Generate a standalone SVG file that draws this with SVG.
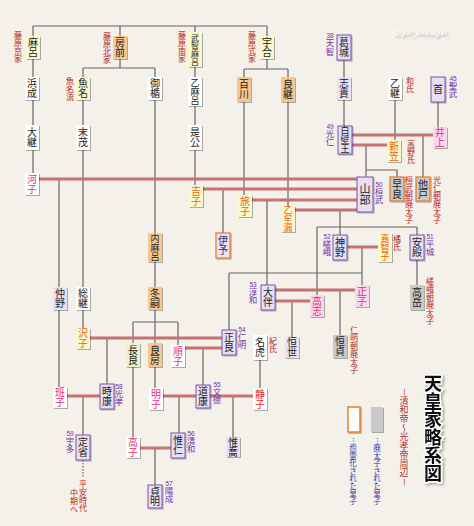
<svg xmlns="http://www.w3.org/2000/svg" width="474" height="526" viewBox="0 0 474 526">
<defs>
<filter id="sh" x="-30%" y="-30%" width="160%" height="160%"><feDropShadow dx="1" dy="1" stdDeviation="0.7" flood-color="#000" flood-opacity="0.3"/></filter>
<filter id="tsh" x="-30%" y="-30%" width="160%" height="160%"><feDropShadow dx="1.5" dy="1.5" stdDeviation="1" flood-color="#000" flood-opacity="0.35"/></filter>
</defs>
<style>
.v{writing-mode:vertical-rl;text-anchor:middle;font-family:"Noto Sans CJK JP","Noto Sans CJK SC",sans-serif;}
.nm{font-size:10px;fill:#222;}
.n9{font-size:9px;}
.n8{font-size:8px;}
.w rect,rect.w{fill:#fff;}
rect{filter:url(#sh);}
.yel{fill:#fbf8cc;}
.org{fill:#f6c690;}
.wht{fill:#ffffff;}
.lav{fill:#eae2f4;}
.lavb{fill:#e8dff4;stroke:#7a55a8;stroke-width:1;}
.pnk{fill:#f7d8ee;}
.gry{fill:#c9c9c9;}
.gryo{fill:#c9c9c9;stroke:#e8802a;stroke-width:1.3;}
.lavo{fill:#ece4f6;stroke:#e8802a;stroke-width:1.3;}
.ygr{fill:#eef0c6;}
.tw{fill:#e8650f;}
.tp{fill:#e6307a;}
.tr{fill:#d82a2a;}
.lab{font-size:8px;fill:#b41e22;}
.emp{font-size:8.5px;fill:#7030a8;}
.num{font-family:"Liberation Sans",sans-serif;font-size:6.5px;fill:#7030a8;text-anchor:middle;}
.g{stroke:#666;stroke-width:1.2;fill:none;}
.r{stroke:#c47272;stroke-width:3;fill:none;}
</style>
<rect x="0" y="0" width="474" height="526" fill="#f3f1e9" style="filter:none"/>
<g id="connectors">
<path class="g" d="M33 26H267M33 26V36M120 26V36M195 26V32M267 26V36"/>
<path class="g" d="M33 59V173"/>
<path class="g" d="M120 59V68M83 68H155M83 68V77M155 68V77"/>
<path class="g" d="M83 100V328"/>
<path class="g" d="M155 100V388"/>
<path class="g" d="M195 67V185"/>
<path class="g" d="M267 59V69M244 69H288M244 69V77M288 69V77"/>
<path class="g" d="M244 102V195M288 102V206"/>
<path class="g" d="M344 60V126M395 100V140M438 102V127"/>
<path class="g" d="M423 135V177M366 145V177M366 170H397V177"/>
<path class="g" d="M59 179V387"/>
<path class="g" d="M223 189V233M267 200V285"/>
<path class="g" d="M340 210V235M317 227H417M317 227V295M417 227V285"/>
<path class="g" d="M362 247V285M229 273H362M229 273V330"/>
<path class="g" d="M292 301V337M340 290V335"/>
<path class="g" d="M133 322H178M133 322V437M178 322V345"/>
<path class="g" d="M107 338V384M203 348V385M233 396V437M179 396V433M260 360V388M83 396V435M155 448V485"/>
<path class="g" d="M83 460V478" stroke-dasharray="1.5 1.5"/>
<path class="r" d="M352 135H433M352 145H387"/>
<path class="r" d="M39 179H358M203 189H358M252 200H358M295 210H358"/>
<path class="r" d="M347 247H378M275 290H355M275 301H310"/>
<path class="r" d="M90 338H222M185 348H222"/>
<path class="r" d="M67 396H100M163 396H253M140 448H171"/>
</g>

<g id="n-maro"><rect class="yel" x="26" y="36" width="14" height="23"/><text class="v nm" x="33" y="47.5">麻呂</text><text class="v lab" x="18" y="47">藤原京家</text></g>
<g id="n-fusasaki"><rect class="org" x="113" y="36" width="14" height="23"/><text class="v nm" x="120" y="47.5">房前</text><text class="v lab" x="107" y="47.5">藤原北家</text></g>
<g id="n-muchimaro"><rect class="yel" x="188" y="32" width="14" height="35"/><text class="v nm n8" x="195" y="49.5">武智麻呂</text><text class="v lab" x="182" y="47">藤原南家</text></g>
<g id="n-umakai"><rect class="yel" x="260" y="36" width="14" height="23"/><text class="v nm" x="267" y="47.5">宇合</text><text class="v lab" x="252" y="47">藤原式家</text></g>
<g id="n-hamanari"><rect class="wht" x="25" y="77" width="14" height="23"/><text class="v nm" x="32" y="88.5">浜成</text></g>
<g id="n-uona"><rect class="yel" x="76" y="77" width="14" height="23"/><text class="v nm" x="83" y="88.5">魚名</text><text class="v lab" x="70" y="88.5">魚名流</text></g>
<g id="n-mitate"><rect class="wht" x="148" y="77" width="14" height="23"/><text class="v nm" x="155" y="88.5">御楯</text></g>
<g id="n-otomaro"><rect class="wht" x="188" y="77" width="14" height="29"/><text class="v nm n9" x="195" y="91.5">乙麻呂</text></g>
<g id="n-momokawa"><rect class="org" x="237" y="77" width="14" height="25"/><text class="v nm" x="244" y="89.5">百川</text></g>
<g id="n-yoshitsugu"><rect class="org" x="281" y="77" width="14" height="25"/><text class="v nm" x="288" y="89.5">良継</text></g>
<g id="n-otsugu"><rect class="wht" x="25" y="125" width="14" height="25"/><text class="v nm" x="32" y="137.5">大継</text></g>
<g id="n-suemochi"><rect class="wht" x="76" y="125" width="14" height="25"/><text class="v nm" x="83" y="137.5">末茂</text></g>
<g id="n-korekimi"><rect class="wht" x="188" y="125" width="14" height="25"/><text class="v nm" x="195" y="137.5">是公</text></g>
<g id="n-kawako"><rect class="wht" x="25" y="173" width="14" height="22"/><text class="v nm tp" x="32" y="184">河子</text></g>
<g id="n-uchimaro"><rect class="org" x="148" y="233" width="14" height="29"/><text class="v nm n9" x="155" y="247.5">内麻呂</text></g>
<g id="n-yoshiko"><rect class="yel" x="189" y="185" width="14" height="22"/><text class="v nm tw" x="196" y="196">吉子</text></g>
<g id="n-iyo"><rect class="lavo" x="216" y="233" width="14" height="25"/><text class="v nm" x="223" y="245.5" style="fill:#3a2a70">伊予</text></g>
<g id="n-tabiko"><rect class="yel" x="238" y="195" width="14" height="22"/><text class="v nm tw" x="245" y="206">旅子</text></g>
<g id="n-otomuro"><rect class="yel" x="281" y="206" width="14" height="26"/><text class="v nm n9 tw" x="288" y="219">乙牟漏</text></g>
<g id="n-katsuragi"><rect class="lavb" x="337" y="35" width="14" height="25"/><text class="v nm" x="344" y="47.5">葛城</text><text class="num" x="330" y="38">38</text><text class="v emp" x="330" y="47.5">天智</text></g>
<g id="n-shiki"><rect class="lav" x="337" y="77" width="14" height="23"/><text class="v nm" x="344" y="88.5">志貴</text></g>
<g id="n-ototsugu"><rect class="wht" x="388" y="77" width="14" height="23"/><text class="v nm" x="395" y="88.5">乙継</text><text class="v lab" x="410" y="85">和氏</text></g>
<g id="n-obito"><rect class="lavb" x="431" y="77" width="14" height="25"/><text class="v nm" x="438" y="89.5">首</text><text class="num" x="453" y="81">45</text><text class="v emp" x="453" y="90">聖武</text></g>
<g id="n-shirakabe"><rect class="lavb" x="338" y="126" width="14" height="28"/><text class="v nm n9" x="345" y="140">白壁王</text><text class="num" x="330" y="129">49</text><text class="v emp" x="330" y="138">光仁</text></g>
<g id="n-inoue"><rect class="pnk" x="433" y="127" width="14" height="21"/><text class="v nm tp" x="440" y="137.5">井上</text></g>
<g id="n-niigasa"><rect class="yel" x="387" y="140" width="14" height="22"/><text class="v nm tw" x="394" y="151">新笠</text><text class="v lab" x="411" y="151.5">高野氏</text></g>
<g id="n-yamabe"><rect class="lavb" x="357" y="177" width="16" height="35"/><text class="v nm" x="365" y="194.5" style="font-size:11px">山部</text><text class="num" x="379" y="187">50</text><text class="v emp" x="379" y="196">桓武</text></g>
<g id="n-sawara"><rect class="gryo" x="390" y="177" width="14" height="24"/><text class="v nm" x="397" y="189">早良</text><text class="v lab" x="409" y="199.5">桓武朝廃太子</text></g>
<g id="n-osabe"><rect class="gryo" x="416" y="177" width="14" height="24"/><text class="v nm" x="423" y="189">他戸</text><text class="v lab" x="437" y="199.5">光仁朝廃太子</text></g>
<g id="n-kamino"><rect class="lavb" x="333" y="235" width="14" height="25"/><text class="v nm" x="340" y="247.5">神野</text><text class="num" x="327" y="239">52</text><text class="v emp" x="327" y="248">嵯峨</text></g>
<g id="n-kachiko"><rect class="yel" x="378" y="233" width="14" height="29"/><text class="v nm n9 tw" x="385" y="247.5">嘉智子</text><text class="v lab" x="397" y="242.5">橘氏</text></g>
<g id="n-ate"><rect class="lavb" x="410" y="235" width="14" height="25"/><text class="v nm" x="417" y="247.5">安殿</text><text class="num" x="430" y="239">51</text><text class="v emp" x="430" y="248">平城</text></g>
<g id="n-takaoka"><rect class="gry" x="410" y="285" width="14" height="25"/><text class="v nm" x="417" y="297.5">高岳</text><text class="v lab" x="430" y="301">嵯峨朝廃太子</text></g>
<g id="n-otomo"><rect class="lavb" x="261" y="285" width="14" height="25"/><text class="v nm" x="268" y="297.5">大伴</text><text class="num" x="253" y="287">53</text><text class="v emp" x="253" y="296">淳和</text></g>
<g id="n-koshi"><rect class="pnk" x="310" y="295" width="14" height="22"/><text class="v nm tp" x="317" y="306">高志</text></g>
<g id="n-masako"><rect class="pnk" x="355" y="285" width="14" height="22"/><text class="v nm tp" x="362" y="296">正子</text></g>
<g id="n-tsuneyo"><rect class="lav" x="285" y="337" width="14" height="21"/><text class="v nm" x="292" y="347.5">恒世</text></g>
<g id="n-tsunesada"><rect class="gry" x="333" y="335" width="14" height="23"/><text class="v nm" x="340" y="346.5">恒貞</text><text class="v lab" x="354" y="350">仁明朝廃太子</text></g>
<g id="n-nakano"><rect class="lav" x="53" y="287" width="14" height="23"/><text class="v nm" x="60" y="298.5">仲野</text></g>
<g id="n-fusatsugu"><rect class="wht" x="76" y="287" width="14" height="23"/><text class="v nm" x="83" y="298.5">総継</text></g>
<g id="n-fuyutsugu"><rect class="org" x="148" y="287" width="14" height="23"/><text class="v nm" x="155" y="298.5">冬嗣</text></g>
<g id="n-sawako"><rect class="yel" x="76" y="328" width="14" height="21"/><text class="v nm tw" x="83" y="338.5">沢子</text></g>
<g id="n-masara"><rect class="lavb" x="222" y="330" width="14" height="25"/><text class="v nm" x="229" y="342.5">正良</text><text class="num" x="242" y="332">54</text><text class="v emp" x="242" y="341">仁明</text></g>
<g id="n-natora"><rect class="wht" x="253" y="335" width="14" height="25"/><text class="v nm" x="260" y="347.5">名虎</text><text class="v lab" x="273" y="344.5">紀氏</text></g>
<g id="n-nagara"><rect class="ygr" x="126" y="343" width="14" height="24"/><text class="v nm" x="133" y="355">長良</text></g>
<g id="n-yoshifusa"><rect class="org" x="148" y="343" width="14" height="24"/><text class="v nm" x="155" y="355">良房</text></g>
<g id="n-junshi"><rect class="wht" x="171" y="345" width="14" height="22"/><text class="v nm tp" x="178" y="356">順子</text></g>
<g id="n-hanshi"><rect class="wht" x="53" y="387" width="14" height="21"/><text class="v nm tp" x="60" y="397.5">班子</text></g>
<g id="n-tokiyasu"><rect class="lavb" x="100" y="384" width="14" height="25"/><text class="v nm" x="107" y="396.5">時康</text><text class="num" x="119" y="389">58</text><text class="v emp" x="119" y="398">光孝</text></g>
<g id="n-meishi"><rect class="wht" x="149" y="388" width="14" height="22"/><text class="v nm tp" x="156" y="399">明子</text></g>
<g id="n-michiyasu"><rect class="lavb" x="196" y="385" width="14" height="23"/><text class="v nm" x="203" y="396.5">道康</text><text class="num" x="217" y="387">55</text><text class="v emp" x="217" y="396">文徳</text></g>
<g id="n-shizuko"><rect class="wht" x="253" y="388" width="14" height="22"/><text class="v nm tr" x="260" y="399">静子</text></g>
<g id="n-sadami"><rect class="lavb" x="76" y="435" width="14" height="25"/><text class="v nm" x="83" y="447.5">定省</text><text class="num" x="70" y="436">59</text><text class="v emp" x="70" y="445">宇多</text></g>
<g id="n-takaiko"><rect class="wht" x="126" y="437" width="14" height="21"/><text class="v nm tp" x="133" y="447.5">高子</text></g>
<g id="n-korehito"><rect class="lavb" x="171" y="433" width="14" height="25"/><text class="v nm" x="178" y="445.5">惟仁</text><text class="num" x="191" y="436">56</text><text class="v emp" x="191" y="445">清和</text></g>
<g id="n-koretaka"><rect class="lav" x="226" y="437" width="14" height="20"/><text class="v nm" x="233" y="447">惟喬</text></g>
<g id="n-sadaakira"><rect class="lavb" x="148" y="485" width="14" height="23"/><text class="v nm" x="155" y="496.5">貞明</text><text class="num" x="169" y="486">57</text><text class="v emp" x="169" y="495">陽成</text></g>
<g id="n-later"><text class="v lab" x="83" y="495.5">平安時代</text><text class="v lab" x="74" y="501">中期へ</text></g>

<g id="title">
<text class="v" x="433" y="428" style="font-size:18px;font-weight:bold;fill:#111;stroke:#fff;stroke-width:3;paint-order:stroke;filter:url(#tsh)">天皇家略系図</text>
<text class="v" x="404" y="437" style="font-size:9px;fill:#b03038">－清和帝～光孝帝周辺－</text>
</g>
<g id="legend">
<rect x="348" y="407" width="12" height="25" fill="#fff" stroke="#e8802a" stroke-width="1.5"/>
<rect x="371" y="407" width="12" height="25" fill="#c9c9c9"/>
<text class="v" x="353" y="471" style="font-size:7.5px;fill:#2a3cb0">…怨霊化された皇子</text>
<text class="v" x="377" y="471" style="font-size:7.5px;fill:#2a3cb0">…廃太子された皇子</text>
</g>
<text x="420" y="35" style="font-family:'Liberation Sans',sans-serif;font-size:7px;fill:#fff;text-anchor:middle;filter:url(#tsh)">@gon_chunagon</text>
</svg>
